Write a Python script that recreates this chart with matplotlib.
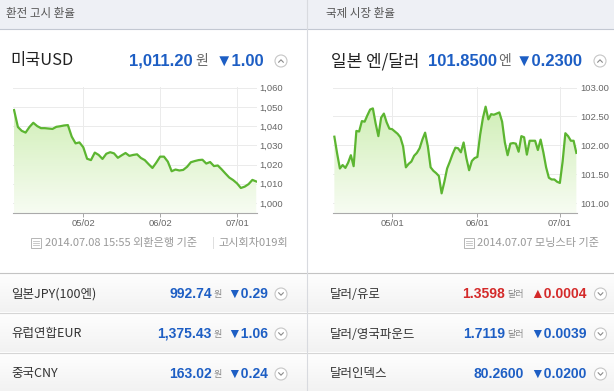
import numpy as np
import pandas as pd
import matplotlib
matplotlib.use('Agg')
import matplotlib.pyplot as plt
import matplotlib.dates as mdates
from matplotlib.colors import LinearSegmentedColormap
from matplotlib.patches import Rectangle, Circle

plt.rcParams['font.family'] = ['Noto Sans CJK KR', 'DejaVu Sans']

# ---- data ----
usd_krw = [1048.3, 1039.5, 1037.5, 1036.6, 1039.5, 1041.7, 1040.0, 1038.9, 1038.9, 1038.7,
           1038.5, 1039.6, 1039.9, 1040.3, 1040.5, 1034.5, 1031.0, 1031.5, 1029.0, 1023.0,
           1022.3, 1026.2, 1025.0, 1022.9, 1025.6, 1026.4, 1025.8, 1023.5, 1024.8, 1026.0,
           1024.5, 1025.0, 1025.3, 1023.4, 1022.3, 1020.2, 1018.2, 1021.0, 1024.1, 1024.1,
           1021.5, 1016.5, 1017.4, 1016.9, 1017.2, 1018.8, 1021.2, 1021.8, 1022.3, 1022.5,
           1020.5, 1021.3, 1019.2, 1019.5, 1017.5, 1015.3, 1013.2, 1011.9, 1010.2, 1007.8,
           1008.5, 1009.8, 1012.0, 1011.2]
usd_tick_pos = [18, 38, 58]
usd_tick_labels = ['05/02', '06/02', '07/01']
usd_yticks = [1000, 1010, 1020, 1030, 1040, 1050, 1060]
usd_ylabels = ['1,000', '1,010', '1,020', '1,030', '1,040', '1,050', '1,060']

jpy_dates = pd.date_range('2014-04-10', '2014-07-07', freq='D')
jpy_usd = [102.15, 101.86, 101.60, 101.66, 101.61, 101.70, 101.83, 101.64, 102.25, 102.24,
           102.42, 102.41, 102.52, 102.62, 102.64, 102.38, 102.16, 102.48, 102.55, 102.40,
           102.29, 102.28, 102.24, 102.20, 102.14, 101.98, 101.62, 101.68, 101.72, 101.82,
           101.87, 101.95, 102.10, 102.22, 101.98, 101.62, 101.56, 101.52, 101.47, 101.17,
           101.37, 101.60, 101.72, 101.85, 101.96, 101.95, 101.88, 102.05, 101.78, 101.57,
           101.73, 101.78, 101.80, 102.18, 102.47, 102.67, 102.45, 102.54, 102.53, 102.55,
           102.57, 102.41, 102.05, 101.83, 102.03, 102.04, 102.03, 101.89, 102.16, 102.14,
           101.84, 102.08, 102.08, 102.08, 101.92, 102.10, 101.88, 101.62, 101.44, 101.41,
           101.41, 101.37, 101.35, 101.72, 102.21, 102.16, 102.08, 102.08, 101.87]
jpy_tick_dates = pd.to_datetime(['2014-05-01', '2014-06-01', '2014-07-01'])
jpy_tick_labels = ['05/01', '06/01', '07/01']
jpy_yticks = [101.0, 101.5, 102.0, 102.5, 103.0]
jpy_ylabels = ['101.00', '101.50', '102.00', '102.50', '103.00']

krw_names = ['일본JPY(100엔)', '유럽연합EUR', '중국CNY']
krw_values = ['992.74', '1,375.43', '163.02']
krw_changes = ['▼0.29', '▼1.06', '▼0.24']

fx_names = ['달러/유로', '달러/영국파운드', '달러인덱스']
fx_values = ['1.3598', '1.7119', '80.2600']
fx_units = ['달러', '달러', '']
fx_changes = ['▲0.0004', '▼0.0039', '▼0.0200']
fx_colors = ['#d42a2a', '#1d5ec4', '#1d5ec4']

BLUE = '#1d5ec4'
LINE = '#5cb531'
NUM = 'Liberation Sans'

W, H = 614, 391
fig = plt.figure(figsize=(W / 100, H / 100), dpi=100)
fig.patch.set_facecolor('white')

# page chrome drawn in pixel coordinates
bg = fig.add_axes([0, 0, 1, 1])
bg.axis('off')

bg.add_patch(Rectangle((0, 0), W, 28.5, fc='#eef0f5', ec='none'))
bg.plot([0, W], [28.5, 28.5], color='#c3c8d2', lw=0.8)

gray_cmap = LinearSegmentedColormap.from_list('row', ['#fefefe', '#f2f2f2'])
grad = np.linspace(0, 1, 64).reshape(-1, 1)
for top, bot in [(273, 312), (313, 352), (353, 391)]:
    bg.imshow(grad, cmap=gray_cmap, extent=[0, W, bot, top], aspect='auto', zorder=0)
bg.plot([0, W], [272.5, 272.5], color='#c4c4c4', lw=0.8)
for yy in [312.5, 352.5]:
    bg.plot([0, W], [yy, yy], color='#d6d6d6', lw=0.8)
bg.plot([307, 307], [0, H], color='#d8dadf', lw=0.8, zorder=5)

bg.text(6, 14, '환전 고시 환율', fontsize=8.3, color='#555', va='center')
bg.text(326, 14, '국제 시장 환율', fontsize=8.3, color='#555', va='center')


def circle_icon(cx, cy, up):
    bg.add_patch(Circle((cx, cy), 6, fc='white', ec='#c6c6c6', lw=0.8, zorder=6))
    d = -1.2 if up else 1.2
    bg.plot([cx - 2.3, cx, cx + 2.3], [cy - d, cy + d, cy - d], color='#8a8a8a', lw=0.8,
            zorder=7)


def doc_icon(x0, y0):
    bg.add_patch(Rectangle((x0, y0), 10, 10, fc='white', ec='#b5b5b5', lw=0.7, zorder=6))
    for k in range(3):
        bg.plot([x0 + 2, x0 + 8], [y0 + 3 + 2.2 * k] * 2, color='#c0c0c0', lw=0.6, zorder=7)


# left headline
bg.text(10, 61, '미국USD', fontsize=11.8, color='#222', va='center')
bg.text(193, 61, '1,011.20', fontsize=12, color=BLUE, fontweight='bold', family=NUM,
        ha='right', va='center')
bg.text(195, 61.5, '원', fontsize=10, color='#666', va='center')
bg.text(216, 61, '▼1.00', fontsize=12, color=BLUE, fontweight='bold',
        family=[NUM, 'DejaVu Sans'], va='center')
circle_icon(281, 61, True)

# right headline
bg.text(331, 61, '일본 엔/달러', fontsize=12.2, color='#222', va='center')
bg.text(497, 61, '101.8500', fontsize=12, color=BLUE, fontweight='bold', family=NUM,
        ha='right', va='center')
bg.text(498, 61.5, '엔', fontsize=10, color='#666', va='center')
bg.text(516, 61, '▼0.2300', fontsize=12, color=BLUE, fontweight='bold',
        family=[NUM, 'DejaVu Sans'], va='center')
circle_icon(600, 61, True)

# footers
doc_icon(31, 238)
bg.text(45, 243, '2014.07.08 15:55 외환은행 기준', fontsize=8, color='#999', va='center')
bg.text(212, 243, '|', fontsize=7, color='#ccc', va='center')
bg.text(218, 243, '고시회차019회', fontsize=8, color='#999', va='center')
doc_icon(464, 238)
bg.text(477, 243, '2014.07.07 모닝스타 기준', fontsize=8, color='#999', va='center')

# bottom rows
row_y = [294, 334, 374]
for i, yy in enumerate(row_y):
    bg.text(11, yy, krw_names[i], fontsize=9, color='#333', va='center')
    bg.text(212, yy, krw_values[i], fontsize=10, color=BLUE, fontweight='bold', family=NUM,
            ha='right', va='center')
    bg.text(213.5, yy + 0.5, '원', fontsize=6.5, color='#888', va='center')
    bg.text(268, yy, krw_changes[i], fontsize=10, color=BLUE, fontweight='bold',
            family=[NUM, 'DejaVu Sans'], ha='right', va='center')
    circle_icon(281, yy, False)

    bg.text(330, yy, fx_names[i], fontsize=9, color='#333', va='center')
    vx = 505 if fx_units[i] else 524
    bg.text(vx, yy, fx_values[i], fontsize=10, color=fx_colors[i], fontweight='bold',
            family=NUM, ha='right', va='center')
    if fx_units[i]:
        bg.text(507, yy + 0.5, fx_units[i], fontsize=6.5, color='#888', va='center')
    bg.text(587, yy, fx_changes[i], fontsize=10, color=fx_colors[i], fontweight='bold',
            family=[NUM, 'DejaVu Sans'], ha='right', va='center')
    circle_icon(600.5, yy, False)

bg.set_xlim(0, W)
bg.set_ylim(H, 0)

fill_cmap = LinearSegmentedColormap.from_list('fill', ['#c9ecac', '#f7fcf2'])


def chart(px0, px1, x, y, xlim, ylim, yticks, ylabels, xticks, xlabels, ypad):
    ax = fig.add_axes([px0 / W, 1 - 213 / H, (px1 - px0) / W, (213 - 87) / H])
    ax.set_facecolor('none')
    poly = ax.fill_between(x, y, ylim[0], facecolor='none', edgecolor='none')
    im = ax.imshow(grad, cmap=fill_cmap, aspect='auto', origin='upper',
                   extent=[xlim[0], xlim[1], ylim[0], ylim[1]], zorder=1)
    im.set_clip_path(poly.get_paths()[0], transform=ax.transData)
    ax.plot(x, y, color=LINE, lw=1.6, solid_joinstyle='round', zorder=3)
    ax.set_xlim(xlim)
    ax.set_ylim(ylim)
    ax.set_yticks(yticks)
    ax.set_yticklabels(ylabels)
    ax.yaxis.tick_right()
    ax.set_xticks(xticks)
    ax.set_xticklabels(xlabels)
    ax.tick_params(axis='y', length=0, pad=ypad, labelsize=6.8, labelcolor='#666')
    ax.tick_params(axis='x', length=3, width=0.6, color='#999', pad=1.5, labelsize=6.8,
                   labelcolor='#666')
    for lab in ax.get_xticklabels() + ax.get_yticklabels():
        lab.set_family(NUM)
    ax.grid(True, color='#ebebeb', lw=0.7)
    ax.set_axisbelow(True)
    for s in ['top', 'right', 'left']:
        ax.spines[s].set_visible(False)
    ax.spines['bottom'].set_color('#aaaaaa')
    ax.spines['bottom'].set_linewidth(0.8)
    return ax


usd_x = np.arange(len(usd_krw))
chart(13.3, 257, usd_x, usd_krw, (-0.2, len(usd_krw) - 0.8), (994.8, 1060.3),
      usd_yticks, usd_ylabels, usd_tick_pos, usd_tick_labels, 1.5)

jx = mdates.date2num(jpy_dates)
chart(333, 576.5, jx, jpy_usd, (jx[0] - 0.5, jx[-1] + 0.05), (100.83, 103.01),
      jpy_yticks, jpy_ylabels, mdates.date2num(jpy_tick_dates), jpy_tick_labels, 3)

fig.savefig('out.png', dpi=100, facecolor='white')
